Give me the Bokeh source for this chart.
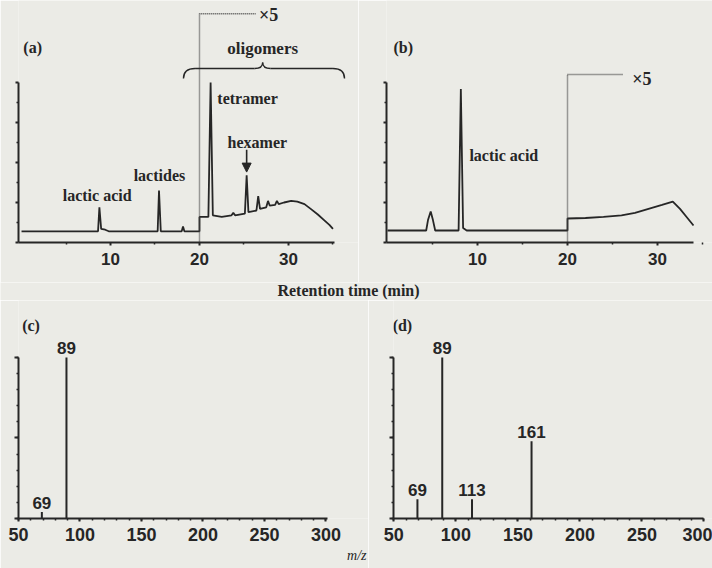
from bokeh.plotting import figure
from bokeh.models import Range1d, FixedTicker, Title, Arrow, NormalHead, ColumnDataSource
from bokeh.layouts import column, row
from bokeh.embed import file_html
from bokeh.resources import INLINE
from bokeh.core.properties import value

BG = "#ebebe6"
INK = "#262626"
DOT = "#444444"
SERIF = "Liberation Serif"
SANS = "Liberation Sans"

# ---------------- data ----------------
# (a) pyrolysis chromatogram, segment after 20 min shown x5
a_time = [0.0, 8.6, 8.75, 8.95, 9.4, 9.8, 15.3, 15.45, 15.65, 18.0, 18.15, 18.3, 20.0,
          20.0, 21.0, 21.25, 21.5, 22.5, 23.6, 23.8, 24.0, 25.1, 25.3, 25.5, 26.4, 26.6,
          26.8, 27.5, 27.7, 27.9, 28.5, 28.7, 28.9, 29.5, 30.3, 31.0, 31.8, 32.5, 33.3,
          34.0, 34.6, 35.0]
a_signal = [7, 7, 22, 8.5, 8, 7, 7, 32.5, 7, 7, 10, 7, 7,
            16, 16, 100, 17, 16, 17, 18.5, 17, 18, 42, 19, 20, 29,
            21, 22, 26, 23, 23.5, 26, 24, 25, 26, 25.5, 24, 21, 17.5,
            14, 11, 8.5]
a_label_text = ["lactic acid", "lactides", "tetramer", "hexamer"]

# (b) chromatogram, segment after 20 min shown x5
b_time = [0.0, 4.3, 4.5, 4.8, 5.05, 5.3, 7.9, 8.15, 8.4, 8.8, 20.0,
          20.0, 22.0, 24.0, 26.0, 27.5, 29.0, 30.5, 31.7, 32.5, 33.3, 34.0]
b_signal = [7.5, 7.5, 14, 19.4, 14, 7.5, 7.5, 96, 9, 7.5, 7.5,
            15, 15.3, 16, 17, 18.5, 21, 23.5, 25.6, 21, 15.5, 10.6]

# (c) mass spectrum
c_mz = [69, 89]
c_int = [4, 100]
# (d) mass spectrum
d_mz = [69, 89, 113, 161]
d_int = [12, 100, 12, 48]

chrom_ticks = [10, 20, 30]
chrom_minor = [5, 15, 25, 35]
ms_ticks = [50, 100, 150, 200, 250, 300]


def base_fig(width, height, xr, yr, left, bottom):
    p = figure(width=width, height=height, x_range=Range1d(*xr), y_range=Range1d(*yr),
               output_backend="svg", toolbar_location=None,
               min_border_left=left, min_border_right=0, min_border_top=0,
               min_border_bottom=bottom)
    p.background_fill_color = BG
    p.border_fill_color = BG
    p.outline_line_color = None
    p.xgrid.visible = False
    p.ygrid.visible = False
    for ax in p.axis:
        ax.axis_line_color = INK
        ax.axis_line_width = 2
        ax.major_tick_line_color = INK
        ax.minor_tick_line_color = INK
        ax.major_tick_line_width = 2
        ax.minor_tick_line_width = 1.5
        ax.major_tick_in = 0
        ax.minor_tick_in = 0
    p.yaxis.major_label_standoff = 0
    p.yaxis.major_tick_out = 3
    p.yaxis.minor_tick_out = 2
    return p


def txt(p, x, y, t, size="16px", align="left", base="middle", font=SERIF, style="bold"):
    p.text(x=x, y=y, text=t, text_font=value(font), text_font_style=style,
           text_font_size=size, text_align=align, text_baseline=base, text_color=INK)


def y_unlabeled(p, ticks, minor):
    p.yaxis.bounds = (0, 100)
    p.yaxis.ticker = FixedTicker(ticks=ticks, minor_ticks=minor)
    p.yaxis.major_label_overrides = {t: "" for t in ticks}


def chrom_axes(p, xend, yticks, yminor):
    p.xaxis.bounds = (p.x_range.start, xend)
    p.xaxis.ticker = FixedTicker(ticks=chrom_ticks, minor_ticks=chrom_minor)
    p.xaxis.major_tick_out = 3
    p.xaxis.minor_tick_out = 2
    p.xaxis.major_label_standoff = 7
    p.xaxis.major_label_text_font = SANS
    p.xaxis.major_label_text_font_style = "bold"
    p.xaxis.major_label_text_font_size = "17px"
    p.xaxis.major_label_text_color = INK
    y_unlabeled(p, yticks, yminor)


# ---------------- (a) ----------------
fa = base_fig(358, 282, (-0.34, 37.87), (0, 151.25), 18, 40)
chrom_axes(fa, 35.2, [0, 25, 50, 75, 100], [12.5, 37.5, 62.5, 87.5])
fa.line(a_time, a_signal, line_color=INK, line_width=1.8)
fa.line([20, 20, 26.3], [0, 143, 143], line_color=DOT, line_width=1.5, line_dash="1 1")
txt(fa, [26.7], [142], ["×5"], size="18px")
txt(fa, [0.2], [122], ["(a)"], size="16px")
txt(fa, [27.1], [121], ["oligomers"], size="17px", align="center")
txt(fa, [8.5, 15.5, 25.4, 26.5], [29.4, 41.9, 90, 62.5], a_label_text, size="16px",
    align="center")
# brace over oligomers
bx0, bx1, btip = 18.2, 36.3, 27.1
yb_end, yb_mid, yb_tip = 102.5, 108.75, 112.5
fa.quadratic(x0=[bx0, btip, bx1, btip], y0=[yb_end, yb_tip, yb_end, yb_tip],
             x1=[bx0 + 1.3, btip - 0.9, bx1 - 1.3, btip + 0.9], y1=[yb_mid] * 4,
             cx=[bx0, btip, bx1, btip], cy=[yb_mid] * 4, line_color=INK, line_width=1.4)
fa.segment(x0=[bx0 + 1.3, btip + 0.9], y0=[yb_mid] * 2, x1=[btip - 0.9, bx1 - 1.3],
           y1=[yb_mid] * 2, line_color=INK, line_width=1.4)
fa.add_layout(Arrow(end=NormalHead(size=9, fill_color=INK, line_color=INK),
                    x_start=25.3, y_start=58, x_end=25.3, y_end=44,
                    line_color=INK, line_width=1.6))

# ---------------- (b) ----------------
fb = base_fig(354, 282, (-0.11, 36.11), (0, 151.25), 28, 40)
chrom_axes(fb, 34, [0, 25, 50, 75, 100], [12.5, 37.5, 62.5, 87.5])
fb.line(b_time, b_signal, line_color=INK, line_width=1.8)
fb.line([20, 20, 26.2], [0, 105, 105], line_color=DOT, line_width=1.5, line_dash="1 1")
txt(fb, [27.2], [102], ["×5"], size="18px")
txt(fb, [0.67], [122], ["(b)"], size="16px")
txt(fb, [9.1], [54.4], ["lactic acid"], size="16px")

# ---------------- strip with shared x label ----------------
fr = figure(width=712, height=18, x_range=Range1d(0, 712), y_range=Range1d(0, 18),
            output_backend="svg", toolbar_location=None, x_axis_location=None,
            y_axis_location=None, min_border=0)
fr.background_fill_color = BG
fr.border_fill_color = BG
fr.outline_line_color = None
fr.xgrid.visible = False
fr.ygrid.visible = False
txt(fr, [348], [10], ["Retention time (min)"], size="16px", align="center")


# ---------------- mass spectra ----------------
def ms_axes(p, xb):
    p.xaxis.bounds = xb
    p.xaxis.ticker = FixedTicker(ticks=ms_ticks, minor_ticks=list(range(50, 301, 10)))
    p.xaxis.major_tick_out = 3
    p.xaxis.minor_tick_out = 2
    p.xaxis.major_label_standoff = 6
    p.xaxis.major_label_text_font = SANS
    p.xaxis.major_label_text_font_style = "bold"
    p.xaxis.major_label_text_font_size = "18px"
    p.xaxis.major_label_text_color = INK
    y_unlabeled(p, [0, 50, 100], list(range(0, 101, 10)))
    p.yaxis.major_tick_out = 4


def ms_peaks(p, mz, inten):
    src = ColumnDataSource(dict(mz=mz, inten=inten, base=[0] * len(mz),
                                lab=[str(m) for m in mz]))
    p.segment(x0="mz", y0="base", x1="mz", y1="inten", source=src, line_color=INK,
              line_width=2)
    p.text(x="mz", y="inten", text="lab", source=src, text_font=value(SANS),
           text_font_style="bold", text_font_size="17px", text_align="center",
           text_baseline="bottom", y_offset=-3, text_color=INK)


fc = base_fig(368, 268, (50, 334.6), (0, 135.4), 18, 50)
ms_axes(fc, (50, 301))
ms_peaks(fc, c_mz, c_int)
txt(fc, [53], [120], ["(c)"], size="16px")
fc.add_layout(Title(text="m/z", text_font=SERIF, text_font_style="italic",
                    text_font_size="14px", align="right", standoff=5, offset=2,
                    text_color=INK), "below")

fd = base_fig(344, 268, (49.7, 306.9), (0, 135.4), 25, 50)
ms_axes(fd, (50, 300))
ms_peaks(fd, d_mz, d_int)
txt(fd, [49], [120], ["(d)"], size="16px")

layout = column(row(fa, fb), fr, row(fc, fd))
open("out.html", "w").write(file_html(layout, INLINE))
